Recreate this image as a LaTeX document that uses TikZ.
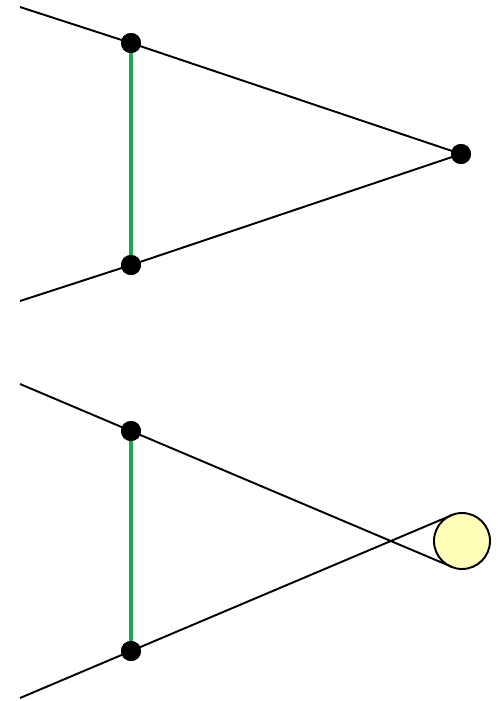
\documentclass[tikz,border=0pt]{standalone}
\usepackage{tikz}
\usetikzlibrary{positioning, calc}
\definecolor{barGreen}{RGB}{30,168,80}
\definecolor{sunYellow}{RGB}{255,255,185}
\tikzset{
    rayLine/.style={line width=1.1pt, black},
    barLine/.style={line width=2.5pt, barGreen},
    dotNode/.style={circle, fill=black, inner sep=0pt, minimum size=0.4cm},
    sunNode/.style={circle, draw=black, fill=sunYellow, line width=1.1pt, inner sep=0pt, minimum size=1.12cm}
}
\begin{document}
\begin{tikzpicture}[x=0.02cm, y=-0.02cm]

        % Frame (pixel units, y downwards)
        \useasboundingbox (0, 0) rectangle (500, 701);

        % --- Top: point source ---
        \coordinate (S1) at (20, 7);
        \coordinate (S2) at (20, 301);
        \node[dotNode] (A1) at (131, 43) {};
        \node[dotNode] (B1) at (131, 265) {};
        \node[dotNode] (P1) at (461, 154) {};

        \draw[rayLine] (S1) -- (A1.center) -- (P1.center);
        \draw[rayLine] (S2) -- (B1.center) -- (P1.center);
        \draw[barLine] (A1) -- (B1);

        % --- Bottom: extended source ---
        \coordinate (S3) at (20, 384);
        \coordinate (S4) at (20, 698);
        \node[sunNode] (Sun) at (462, 541) {};
        \coordinate (T1) at (451.3, 566.6);
        \coordinate (T2) at (451.3, 515.4);
        \node[dotNode] (A2) at (131, 431) {};
        \node[dotNode] (B2) at (131, 651) {};

        \draw[rayLine] (S3) -- (A2.center) -- (T1);
        \draw[rayLine] (S4) -- (B2.center) -- (T2);
        \draw[barLine] (A2) -- (B2);

        % redraw dots on top of rays
        \foreach \n in {A1, B1, P1, A2, B2} {
            \node[dotNode] at (\n) {};
        }

    \end{tikzpicture}
\end{document}
